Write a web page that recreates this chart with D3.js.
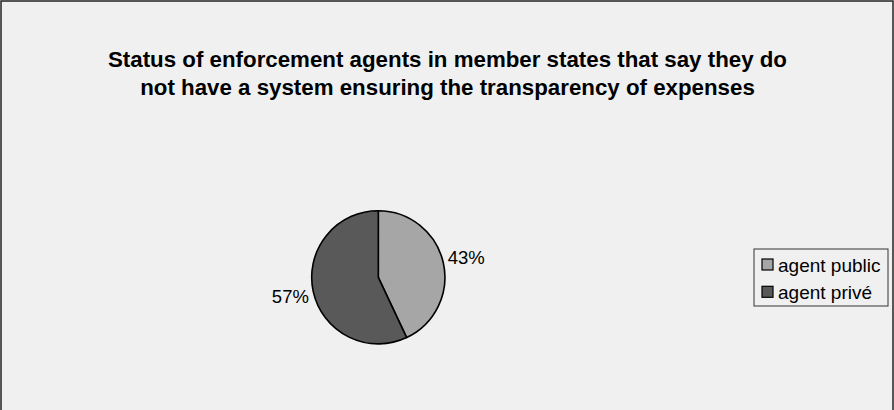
<!DOCTYPE html>
<html>
<head>
<meta charset="utf-8">
<script src="https://cdn.jsdelivr.net/npm/d3@7/dist/d3.min.js"></script>
<style>
  html, body { margin: 0; padding: 0; background: #fff; }
  svg { display: block; font-family: "Liberation Sans", Arial, sans-serif; }
</style>
</head>
<body>
<svg id="chart" width="894" height="410"></svg>
<script>
const categories = ["agent public", "agent privé"];
const values = [43, 57];
const colors = ["#a6a6a6", "#595959"];
const titleLines = [
  "Status of enforcement agents in member states that say they do",
  "not have a system ensuring the transparency of expenses"
];

const svg = d3.select("#chart");
const W = 894, H = 410;

// chart area background and frame
svg.append("rect")
  .attr("x", 1).attr("y", 1).attr("width", W - 2).attr("height", H + 5)
  .attr("fill", "#f0f0f0").attr("stroke", "#222").attr("stroke-width", 1.5);

// title
svg.append("g").selectAll("text").data(titleLines).join("text")
  .attr("x", 447.5).attr("y", (d, i) => 66.5 + i * 28)
  .attr("text-anchor", "middle")
  .attr("font-size", 22.3).attr("font-weight", "bold").attr("fill", "#000")
  .text(d => d);

// pie
const cx = 378.3, cy = 277.3, r = 66.6;
const pie = d3.pie().sort(null).value(d => d);
const arcs = pie(values);
const arc = d3.arc().innerRadius(0).outerRadius(r);
const labelArc = d3.arc().innerRadius(r + 23.5).outerRadius(r + 23.5);

const g = svg.append("g").attr("transform", `translate(${cx},${cy})`);
g.selectAll("path").data(arcs).join("path")
  .attr("d", arc)
  .attr("fill", (d, i) => colors[i])
  .attr("stroke", "#000").attr("stroke-width", 1.6)
  .attr("stroke-linejoin", "round");

const total = d3.sum(values);
g.selectAll("text.lbl").data(arcs).join("text")
  .attr("class", "lbl")
  .attr("transform", d => {
    const [x, y] = labelArc.centroid(d);
    return `translate(${x},${y})`;
  })
  .attr("text-anchor", "middle")
  .attr("dominant-baseline", "central")
  .attr("font-size", 18.5).attr("fill", "#000")
  .text(d => Math.round(d.data / total * 100) + "%");

// legend
const lg = svg.append("g").attr("transform", "translate(754,249)");
lg.append("rect").attr("width", 134).attr("height", 57)
  .attr("fill", "#f0f0f0").attr("stroke", "#333").attr("stroke-width", 1);
const items = lg.selectAll("g").data(categories).join("g")
  .attr("transform", (d, i) => `translate(7.5,${15.5 + i * 27.3})`);
items.append("rect").attr("x", 0.5).attr("y", -5.5).attr("width", 11).attr("height", 11)
  .attr("fill", (d, i) => colors[i]).attr("stroke", "#000").attr("stroke-width", 1.2);
items.append("text").attr("x", 16.5).attr("y", 0.5)
  .attr("dominant-baseline", "central")
  .attr("font-size", 19).attr("fill", "#000")
  .text(d => d);
</script>
</body>
</html>
